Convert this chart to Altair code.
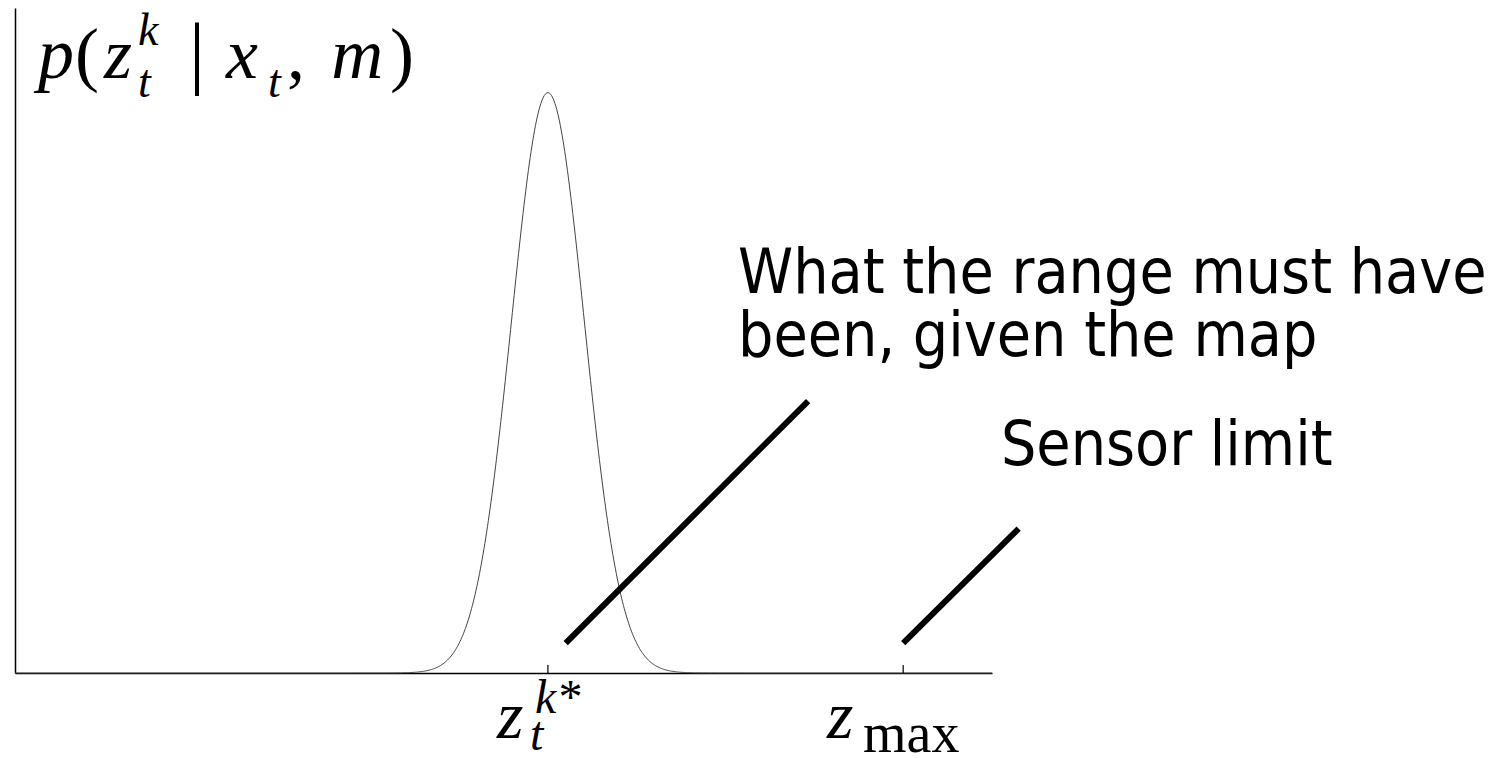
import altair as alt
import numpy as np
import pandas as pd

# Axis extents (range units) and the measurement model
x_min, x_max = 0.0, 11.0
y_min, y_max = 0.0, 1.115
z_star = 6.0      # range expected from the map
z_limit = 10.0    # maximum sensor range
sigma = 0.41      # measurement noise

# Gaussian measurement density around the expected range
zs = np.linspace(x_min, x_max, 1101)
dens = np.exp(-0.5 * ((zs - z_star) / sigma) ** 2) / (sigma * np.sqrt(2 * np.pi))
curve = pd.DataFrame({"z": zs, "p": dens})

# Pointer strokes from the annotations down to the axis
ptr_x0 = [6.2, 10.0]
ptr_y0 = [0.05, 0.05]
ptr_x1 = [8.93, 11.3]
ptr_y1 = [0.456, 0.242]
pointers = pd.DataFrame({"x0": ptr_x0, "y0": ptr_y0, "x1": ptr_x1, "y1": ptr_y1})

# Inward tick marks on the range axis
tick_x = [z_star, z_limit]
tick_len = 0.0134
ticks = pd.DataFrame({"x": tick_x, "y0": [0.0, 0.0], "y1": [tick_len, tick_len]})

# Annotation text (sans)
note_text = ["What the range must have", "been, given the map", "Sensor limit"]
note_x = [8.14, 8.14, 11.10]
note_y = [0.637, 0.532, 0.3488]
notes = pd.DataFrame({"t": note_text, "x": note_x, "y": note_y})

# Math labels, italic pieces: text, x, y, font size
mi_text = ["p", "z", "k", "t", "x", "t", "m",
           "z", "k*", "t", "z"]
mi_x = [0.259, 1.002, 1.385, 1.385, 2.376, 2.849, 3.56,
        5.427, 5.855, 5.798, 9.142]
mi_y = [0.9976, 0.9976, 1.053, 0.9658, 0.9976, 0.9658, 0.9976,
        -0.109, -0.0671, -0.1291, -0.109]
mi_size = [72, 72, 46, 46, 72, 46, 72,
           68, 48, 48, 68]
math_it = pd.DataFrame({"t": mi_text, "x": mi_x, "y": mi_y, "s": mi_size})

# Math labels, upright pieces
mr_text = ["(", "|", ",", ")", "max"]
mr_x = [0.6755, 1.959, 3.062, 4.222, 9.548]
mr_y = [0.9976, 0.996, 0.9976, 0.9976, -0.1325]
mr_size = [72, 80, 72, 72, 56]
math_rm = pd.DataFrame({"t": mr_text, "x": mr_x, "y": mr_y, "s": mr_size})

xs = alt.Scale(domain=[x_min, x_max], nice=False, zero=False)
ys = alt.Scale(domain=[y_min, y_max], nice=False, zero=False)

axis_style = dict(domain=True, domainColor="black", domainWidth=1.5, ticks=False,
                  labels=False, grid=False, title=None)

base_curve = alt.Chart(curve).mark_line(color="#444444", strokeWidth=1, clip=False).encode(
    x=alt.X("z:Q", scale=xs, axis=alt.Axis(**axis_style)),
    y=alt.Y("p:Q", scale=ys, axis=alt.Axis(**axis_style)),
)

tick_layer = alt.Chart(ticks).mark_rule(color="black", strokeWidth=1.2).encode(
    x=alt.X("x:Q", scale=xs), y=alt.Y("y0:Q", scale=ys), y2="y1:Q"
)

ptr_layer = alt.Chart(pointers).mark_rule(color="black", strokeWidth=6, strokeCap="butt").encode(
    x=alt.X("x0:Q", scale=xs), y=alt.Y("y0:Q", scale=ys), x2="x1:Q", y2="y1:Q"
)

note_layer = alt.Chart(notes).mark_text(
    font="DejaVu Sans Condensed", fontSize=62, align="left", baseline="alphabetic", color="black"
).encode(x=alt.X("x:Q", scale=xs), y=alt.Y("y:Q", scale=ys), text="t:N")

it_layer = alt.Chart(math_it).mark_text(
    font="Liberation Serif", fontStyle="italic", align="left", baseline="alphabetic", color="black"
).encode(x=alt.X("x:Q", scale=xs), y=alt.Y("y:Q", scale=ys), text="t:N",
         size=alt.Size("s:Q", scale=None))

rm_layer = alt.Chart(math_rm).mark_text(
    font="Liberation Serif", align="left", baseline="alphabetic", color="black"
).encode(x=alt.X("x:Q", scale=xs), y=alt.Y("y:Q", scale=ys), text="t:N",
         size=alt.Size("s:Q", scale=None))

chart = alt.layer(base_curve, tick_layer, ptr_layer, note_layer, it_layer, rm_layer).properties(
    width=977, height=665,
    autosize=alt.AutoSizeParams(type="none"),
    padding={"left": 15, "top": 8, "right": 517, "bottom": 85},
    background="white",
).configure_view(stroke=None)

chart.save("out.html", embed_options={"renderer": "svg", "actions": False})
